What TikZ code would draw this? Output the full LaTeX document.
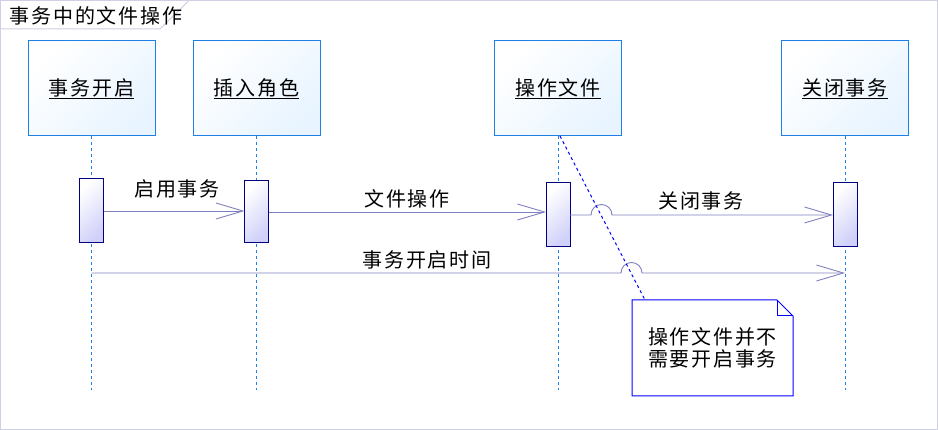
\documentclass[tikz,border=0pt]{standalone}
\usepackage{fontspec}
\newfontfamily\cjk[LetterSpace=9]{Noto Sans CJK SC}
\usetikzlibrary{arrows.meta,calc}
\definecolor{boxblue}{RGB}{30,128,230}
\definecolor{boxfill}{RGB}{232,244,255}
\definecolor{actnavy}{RGB}{0,0,128}
\definecolor{actfill}{RGB}{208,208,250}
\definecolor{msgc}{RGB}{128,128,192}
\definecolor{lifec}{RGB}{30,128,240}
\definecolor{framec}{RGB}{208,208,228}
\definecolor{notec}{RGB}{0,0,255}
\tikzset{
  txt/.style={font=\cjk\fontsize{20}{22}\selectfont, inner sep=0pt},
  lifebox/.style={txt, draw=boxblue, line width=1pt, top color=white, bottom color=boxfill, shading angle=45,
    minimum width=127pt, minimum height=95pt, outer sep=0pt},
  actbox/.style={draw=actnavy, line width=1pt, top color=white, bottom color=actfill, shading angle=45,
    minimum width=24pt, minimum height=64pt, inner sep=0pt, outer sep=0pt},
  lifeline/.style={draw=lifec, line width=1pt, dash pattern=on 3pt off 3pt},
  msg/.style={draw=msgc, line width=0.9pt, -{Straight Barb[length=27pt,width=16pt,line width=0.9pt]}},
  notebox/.style={txt, align=center, minimum width=161pt, minimum height=96pt, outer sep=0pt},
  noteline/.style={draw=notec, line width=1pt},
  framel/.style={draw=framec, line width=1pt},
}
\begin{document}
\begin{tikzpicture}[x=1pt,y=1pt]
\useasboundingbox (0,0) rectangle (938,430);
% frame
\draw[framel] (0.5,0.5) rectangle (937,429.5);
\draw[framel] (0.5,401) -- (160,401) -- (189,429.5);
\node[txt] (title) at (96,414) {事务中的文件操作};

% lifeline heads
\node[lifebox] (b1) at (91.5,341.5) {\underline{事务开启}};
\node[lifebox] (b2) at (256.5,341.5) {\underline{插入角色}};
\node[lifebox] (b3) at (558,341.5) {\underline{操作文件}};
\node[lifebox] (b4) at (845,341.5) {\underline{关闭事务}};

% lifeline ends
\coordinate (e1) at (91.5,40);
\coordinate (e2) at (256.5,40);
\coordinate (e3) at (558,40);
\coordinate (e4) at (845,40);
\draw[lifeline] (b1.south) -- (e1);
\draw[lifeline] (b2.south) -- (e2);
\draw[lifeline] (b3.south) -- (e3);
\draw[lifeline] (b4.south) -- (e4);

% activations
\node[actbox] (a1) at (91.5,219) {};
\node[actbox, minimum height=62pt] (a2) at (256.5,218) {};
\node[actbox] (a3) at (558,215) {};
\node[actbox] (a4) at (845,215) {};

% messages
\draw[msg] (a1.east |- 0,219) -- (a2.west |- 0,219);
\node[txt] (t1) at (177,241) {启用事务};
\draw[msg] (a2.east |- 0,218) -- (a3.west |- 0,218);
\node[txt] (t2) at (407,231) {文件操作};
\draw[msg] (a3.east) -- (591,215) arc (180:0:10.5) -- (a4.west);
\node[txt] (t3) at (701,229) {关闭事务};
\coordinate (m4s) at (91.5,157);
\coordinate (m4e) at (845,157);
\draw[msg] (m4s) -- (621,157) arc (180:0:10.5) -- (m4e);
\node[txt] (t4) at (427,170) {事务开启时间};

% note
\node[notebox] (note) at (712.5,82) {操作文件并不\\需要开启事务};
\draw[noteline] (note.south west) -- (note.north west) -- ($(note.north east)+(-16,0)$)
  -- ($(note.north east)+(0,-16)$) -- (note.south east) -- cycle;
\draw[noteline] ($(note.north east)+(-16,0)$) -- ($(note.north east)+(-16,-16)$) -- ($(note.north east)+(0,-16)$);
\draw[noteline, dash pattern=on 3pt off 3pt] ($(b3.south)+(2,0)$) -- ($(note.north west)+(13,0)$);
\end{tikzpicture}
\end{document}
